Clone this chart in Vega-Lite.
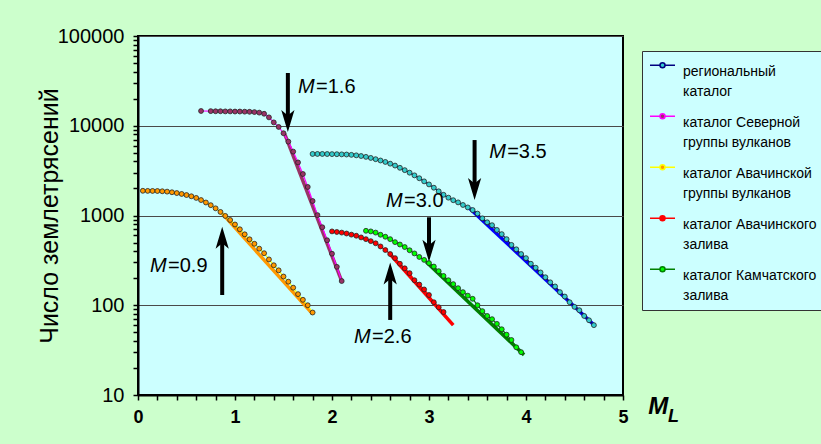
{
  "$schema": "https://vega.github.io/schema/vega-lite/v6.json",
  "width": 485,
  "height": 359,
  "autosize": {"type": "none"},
  "padding": {"left": 138, "top": 36, "right": 198, "bottom": 49},
  "background": "#ccffcc",
  "config": {
    "font": "Liberation Sans",
    "view": {"fill": "#ccffff", "stroke": "#000", "strokeWidth": 2},
    "axis": {"labelOverlap": false},
    "legend": {"symbolFillColor": "#ffffff", "symbolStrokeColor": "#000000"}
  },
  "datasets": {
    "pts": [
      {"s": "региональный каталог", "M": 1.8, "N": 4850}, {"s": "региональный каталог", "M": 1.85, "N": 4850}, {"s": "региональный каталог", "M": 1.9, "N": 4850}, {"s": "региональный каталог", "M": 1.95, "N": 4840}, {"s": "региональный каталог", "M": 2.0, "N": 4830}, {"s": "региональный каталог", "M": 2.05, "N": 4820}, {"s": "региональный каталог", "M": 2.1, "N": 4800}, {"s": "региональный каталог", "M": 2.15, "N": 4780}, {"s": "региональный каталог", "M": 2.2, "N": 4740}, {"s": "региональный каталог", "M": 2.25, "N": 4680}, {"s": "региональный каталог", "M": 2.3, "N": 4600}, {"s": "региональный каталог", "M": 2.35, "N": 4500}, {"s": "региональный каталог", "M": 2.4, "N": 4380}, {"s": "региональный каталог", "M": 2.45, "N": 4240}, {"s": "региональный каталог", "M": 2.5, "N": 4100}, {"s": "региональный каталог", "M": 2.55, "N": 3950}, {"s": "региональный каталог", "M": 2.6, "N": 3780}, {"s": "региональный каталог", "M": 2.65, "N": 3600}, {"s": "региональный каталог", "M": 2.7, "N": 3400}, {"s": "региональный каталог", "M": 2.75, "N": 3200}, {"s": "региональный каталог", "M": 2.8, "N": 3000}, {"s": "региональный каталог", "M": 2.85, "N": 2800}, {"s": "региональный каталог", "M": 2.9, "N": 2600}, {"s": "региональный каталог", "M": 2.95, "N": 2400}, {"s": "региональный каталог", "M": 3.0, "N": 2220}, {"s": "региональный каталог", "M": 3.05, "N": 2040}, {"s": "региональный каталог", "M": 3.1, "N": 1860}, {"s": "региональный каталог", "M": 3.15, "N": 1700}, {"s": "региональный каталог", "M": 3.2, "N": 1580}, {"s": "региональный каталог", "M": 3.25, "N": 1480}, {"s": "региональный каталог", "M": 3.3, "N": 1400}, {"s": "региональный каталог", "M": 3.35, "N": 1310}, {"s": "региональный каталог", "M": 3.4, "N": 1230}, {"s": "региональный каталог", "M": 3.45, "N": 1150}, {"s": "региональный каталог", "M": 3.5, "N": 1050}, {"s": "региональный каталог", "M": 3.55, "N": 930}, {"s": "региональный каталог", "M": 3.6, "N": 840}, {"s": "региональный каталог", "M": 3.65, "N": 780}, {"s": "региональный каталог", "M": 3.7, "N": 690}, {"s": "региональный каталог", "M": 3.75, "N": 620}, {"s": "региональный каталог", "M": 3.8, "N": 545}, {"s": "региональный каталог", "M": 3.85, "N": 470}, {"s": "региональный каталог", "M": 3.9, "N": 420}, {"s": "региональный каталог", "M": 3.95, "N": 372}, {"s": "региональный каталог", "M": 4.0, "N": 335}, {"s": "региональный каталог", "M": 4.05, "N": 290}, {"s": "региональный каталог", "M": 4.1, "N": 262}, {"s": "региональный каталог", "M": 4.15, "N": 232}, {"s": "региональный каталог", "M": 4.2, "N": 205}, {"s": "региональный каталог", "M": 4.25, "N": 180}, {"s": "региональный каталог", "M": 4.3, "N": 162}, {"s": "региональный каталог", "M": 4.35, "N": 140}, {"s": "региональный каталог", "M": 4.4, "N": 125}, {"s": "региональный каталог", "M": 4.45, "N": 108}, {"s": "региональный каталог", "M": 4.5, "N": 96}, {"s": "региональный каталог", "M": 4.55, "N": 88}, {"s": "региональный каталог", "M": 4.6, "N": 76}, {"s": "региональный каталог", "M": 4.65, "N": 68}, {"s": "региональный каталог", "M": 4.7, "N": 60},
      {"s": "каталог Северной группы вулканов", "M": 0.65, "N": 14600}, {"s": "каталог Северной группы вулканов", "M": 0.75, "N": 14550}, {"s": "каталог Северной группы вулканов", "M": 0.8, "N": 14500}, {"s": "каталог Северной группы вулканов", "M": 0.85, "N": 14500}, {"s": "каталог Северной группы вулканов", "M": 0.9, "N": 14450}, {"s": "каталог Северной группы вулканов", "M": 0.95, "N": 14450}, {"s": "каталог Северной группы вулканов", "M": 1.0, "N": 14400}, {"s": "каталог Северной группы вулканов", "M": 1.05, "N": 14400}, {"s": "каталог Северной группы вулканов", "M": 1.1, "N": 14350}, {"s": "каталог Северной группы вулканов", "M": 1.15, "N": 14300}, {"s": "каталог Северной группы вулканов", "M": 1.2, "N": 14200}, {"s": "каталог Северной группы вулканов", "M": 1.25, "N": 14000}, {"s": "каталог Северной группы вулканов", "M": 1.3, "N": 13600}, {"s": "каталог Северной группы вулканов", "M": 1.35, "N": 12400}, {"s": "каталог Северной группы вулканов", "M": 1.4, "N": 10900}, {"s": "каталог Северной группы вулканов", "M": 1.45, "N": 9700}, {"s": "каталог Северной группы вулканов", "M": 1.5, "N": 8250}, {"s": "каталог Северной группы вулканов", "M": 1.55, "N": 6650}, {"s": "каталог Северной группы вулканов", "M": 1.6, "N": 5150}, {"s": "каталог Северной группы вулканов", "M": 1.65, "N": 3900}, {"s": "каталог Северной группы вулканов", "M": 1.7, "N": 2900}, {"s": "каталог Северной группы вулканов", "M": 1.75, "N": 2080}, {"s": "каталог Северной группы вулканов", "M": 1.8, "N": 1450}, {"s": "каталог Северной группы вулканов", "M": 1.85, "N": 1010}, {"s": "каталог Северной группы вулканов", "M": 1.9, "N": 740}, {"s": "каталог Северной группы вулканов", "M": 1.95, "N": 530}, {"s": "каталог Северной группы вулканов", "M": 2.0, "N": 375}, {"s": "каталог Северной группы вулканов", "M": 2.05, "N": 268}, {"s": "каталог Северной группы вулканов", "M": 2.1, "N": 186},
      {"s": "каталог Авачинской группы вулканов", "M": 0.05, "N": 1885}, {"s": "каталог Авачинской группы вулканов", "M": 0.1, "N": 1880}, {"s": "каталог Авачинской группы вулканов", "M": 0.15, "N": 1878}, {"s": "каталог Авачинской группы вулканов", "M": 0.2, "N": 1875}, {"s": "каталог Авачинской группы вулканов", "M": 0.25, "N": 1862}, {"s": "каталог Авачинской группы вулканов", "M": 0.3, "N": 1845}, {"s": "каталог Авачинской группы вулканов", "M": 0.35, "N": 1815}, {"s": "каталог Авачинской группы вулканов", "M": 0.4, "N": 1778}, {"s": "каталог Авачинской группы вулканов", "M": 0.45, "N": 1738}, {"s": "каталог Авачинской группы вулканов", "M": 0.5, "N": 1690}, {"s": "каталог Авачинской группы вулканов", "M": 0.55, "N": 1637}, {"s": "каталог Авачинской группы вулканов", "M": 0.6, "N": 1570}, {"s": "каталог Авачинской группы вулканов", "M": 0.65, "N": 1486}, {"s": "каталог Авачинской группы вулканов", "M": 0.7, "N": 1396}, {"s": "каталог Авачинской группы вулканов", "M": 0.75, "N": 1303}, {"s": "каталог Авачинской группы вулканов", "M": 0.8, "N": 1202}, {"s": "каталог Авачинской группы вулканов", "M": 0.85, "N": 1096}, {"s": "каталог Авачинской группы вулканов", "M": 0.9, "N": 989}, {"s": "каталог Авачинской группы вулканов", "M": 0.95, "N": 891}, {"s": "каталог Авачинской группы вулканов", "M": 1.0, "N": 794}, {"s": "каталог Авачинской группы вулканов", "M": 1.05, "N": 702}, {"s": "каталог Авачинской группы вулканов", "M": 1.1, "N": 617}, {"s": "каталог Авачинской группы вулканов", "M": 1.15, "N": 543}, {"s": "каталог Авачинской группы вулканов", "M": 1.2, "N": 484}, {"s": "каталог Авачинской группы вулканов", "M": 1.25, "N": 427}, {"s": "каталог Авачинской группы вулканов", "M": 1.3, "N": 380}, {"s": "каталог Авачинской группы вулканов", "M": 1.35, "N": 324}, {"s": "каталог Авачинской группы вулканов", "M": 1.4, "N": 279}, {"s": "каталог Авачинской группы вулканов", "M": 1.45, "N": 245}, {"s": "каталог Авачинской группы вулканов", "M": 1.5, "N": 209}, {"s": "каталог Авачинской группы вулканов", "M": 1.55, "N": 183}, {"s": "каталог Авачинской группы вулканов", "M": 1.6, "N": 157}, {"s": "каталог Авачинской группы вулканов", "M": 1.65, "N": 133}, {"s": "каталог Авачинской группы вулканов", "M": 1.7, "N": 115}, {"s": "каталог Авачинской группы вулканов", "M": 1.75, "N": 100}, {"s": "каталог Авачинской группы вулканов", "M": 1.8, "N": 83},
      {"s": "каталог Авачинского залива", "M": 2.0, "N": 665}, {"s": "каталог Авачинского залива", "M": 2.05, "N": 655}, {"s": "каталог Авачинского залива", "M": 2.1, "N": 645}, {"s": "каталог Авачинского залива", "M": 2.15, "N": 630}, {"s": "каталог Авачинского залива", "M": 2.2, "N": 612}, {"s": "каталог Авачинского залива", "M": 2.25, "N": 595}, {"s": "каталог Авачинского залива", "M": 2.3, "N": 570}, {"s": "каталог Авачинского залива", "M": 2.35, "N": 545}, {"s": "каталог Авачинского залива", "M": 2.4, "N": 518}, {"s": "каталог Авачинского залива", "M": 2.45, "N": 490}, {"s": "каталог Авачинского залива", "M": 2.5, "N": 452}, {"s": "каталог Авачинского залива", "M": 2.55, "N": 412}, {"s": "каталог Авачинского залива", "M": 2.6, "N": 372}, {"s": "каталог Авачинского залива", "M": 2.65, "N": 335}, {"s": "каталог Авачинского залива", "M": 2.7, "N": 290}, {"s": "каталог Авачинского залива", "M": 2.75, "N": 258}, {"s": "каталог Авачинского залива", "M": 2.8, "N": 228}, {"s": "каталог Авачинского залива", "M": 2.85, "N": 190}, {"s": "каталог Авачинского залива", "M": 2.9, "N": 170}, {"s": "каталог Авачинского залива", "M": 2.95, "N": 150}, {"s": "каталог Авачинского залива", "M": 3.0, "N": 130}, {"s": "каталог Авачинского залива", "M": 3.05, "N": 108}, {"s": "каталог Авачинского залива", "M": 3.1, "N": 95}, {"s": "каталог Авачинского залива", "M": 3.15, "N": 84},
      {"s": "каталог Камчатского залива", "M": 2.35, "N": 675}, {"s": "каталог Камчатского залива", "M": 2.4, "N": 665}, {"s": "каталог Камчатского залива", "M": 2.45, "N": 645}, {"s": "каталог Камчатского залива", "M": 2.5, "N": 610}, {"s": "каталог Камчатского залива", "M": 2.55, "N": 580}, {"s": "каталог Камчатского залива", "M": 2.6, "N": 545}, {"s": "каталог Камчатского залива", "M": 2.65, "N": 505}, {"s": "каталог Камчатского залива", "M": 2.7, "N": 475}, {"s": "каталог Камчатского залива", "M": 2.75, "N": 445}, {"s": "каталог Камчатского залива", "M": 2.8, "N": 410}, {"s": "каталог Камчатского залива", "M": 2.85, "N": 378}, {"s": "каталог Камчатского залива", "M": 2.9, "N": 345}, {"s": "каталог Камчатского залива", "M": 2.95, "N": 320}, {"s": "каталог Камчатского залива", "M": 3.0, "N": 295}, {"s": "каталог Камчатского залива", "M": 3.05, "N": 270}, {"s": "каталог Камчатского залива", "M": 3.1, "N": 240}, {"s": "каталог Камчатского залива", "M": 3.15, "N": 212}, {"s": "каталог Камчатского залива", "M": 3.2, "N": 190}, {"s": "каталог Камчатского залива", "M": 3.25, "N": 172}, {"s": "каталог Камчатского залива", "M": 3.3, "N": 155}, {"s": "каталог Камчатского залива", "M": 3.35, "N": 140}, {"s": "каталог Камчатского залива", "M": 3.4, "N": 128}, {"s": "каталог Камчатского залива", "M": 3.45, "N": 118}, {"s": "каталог Камчатского залива", "M": 3.5, "N": 100}, {"s": "каталог Камчатского залива", "M": 3.55, "N": 86}, {"s": "каталог Камчатского залива", "M": 3.6, "N": 76}, {"s": "каталог Камчатского залива", "M": 3.65, "N": 70}, {"s": "каталог Камчатского залива", "M": 3.7, "N": 62}, {"s": "каталог Камчатского залива", "M": 3.75, "N": 54}, {"s": "каталог Камчатского залива", "M": 3.8, "N": 47}, {"s": "каталог Камчатского залива", "M": 3.85, "N": 41}, {"s": "каталог Камчатского залива", "M": 3.9, "N": 34}, {"s": "каталог Камчатского залива", "M": 3.95, "N": 30}
    ],
    "fit": [
      {"s": "региональный каталог", "M": 3.42, "N": 1200}, {"s": "региональный каталог", "M": 4.71, "N": 59},
      {"s": "каталог Северной группы вулканов", "M": 1.51, "N": 8230}, {"s": "каталог Северной группы вулканов", "M": 2.1, "N": 186},
      {"s": "каталог Авачинской группы вулканов", "M": 0.87, "N": 1050}, {"s": "каталог Авачинской группы вулканов", "M": 1.8, "N": 80},
      {"s": "каталог Авачинского залива", "M": 2.6, "N": 370}, {"s": "каталог Авачинского залива", "M": 3.25, "N": 60},
      {"s": "каталог Камчатского залива", "M": 2.97, "N": 305}, {"s": "каталог Камчатского залива", "M": 3.98, "N": 28}
    ],
    "arrows": [
      {"M": 1.545, "tail": 38700, "end": 12500, "tip": 8510, "dir": "down", "v": "=1.6", "tM": 1.65, "tN": 26800},
      {"M": 3.47, "tail": 6930, "end": 2190, "tip": 1490, "dir": "down", "v": "=3.5", "tM": 3.62, "tN": 5140},
      {"M": 3.0, "tail": 955, "end": 450, "tip": 306, "dir": "down", "v": "=3.0", "tM": 2.557, "tN": 1452},
      {"M": 0.868, "tail": 130, "end": 510, "tip": 750, "dir": "up", "v": "=0.9", "tM": 0.124, "tN": 274},
      {"M": 2.6, "tail": 68.6, "end": 205, "tip": 300, "dir": "up", "v": "=2.6", "tM": 2.227, "tN": 44.7}
    ],
    "axtitle": [
      {"part": "M", "M": 5.26, "N": 7.35},
      {"part": "L", "M": 5.465, "N": 5.73}
    ]
  },
  "layer": [
    {
      "data": {"name": "pts"},
      "mark": {"type": "point", "filled": true, "size": 10, "opacity": 0},
      "encoding": {
        "x": {"field": "M", "type": "quantitative"},
        "y": {"field": "N", "type": "quantitative"},
        "stroke": {"field": "s", "type": "nominal",
          "scale": {"domain": ["региональный каталог", "каталог Северной группы вулканов", "каталог Авачинской группы вулканов", "каталог Авачинского залива", "каталог Камчатского залива"],
                    "range": ["#000080", "#ff00ff", "#ffff00", "#ff0000", "#008000"]},
          "legend": {"title": null, "orient": "none", "legendX": 504, "legendY": 15, "direction": "vertical",
            "fillColor": "#ccffff", "strokeColor": "#333", "padding": 7,
            "symbolType": "M-1,-0.5L-0.2,-0.5M0.2,-0.5L1,-0.5M-0.2,-0.5A0.2,0.2,0,1,0,0.2,-0.5A0.2,0.2,0,1,0,-0.2,-0.5Z",
            "symbolSize": 625, "symbolStrokeWidth": 1.5, "symbolOpacity": 1,
            "labelFont": "Liberation Sans", "labelFontSize": 14, "labelColor": "#000", "labelLimit": 300, "labelOffset": 7, "labelBaseline": "middle",
            "rowPadding": 10,
            "encode": {"labels": {"update": {"lineHeight": {"value": 20}}}},
            "labelExpr": "datum.label == 'региональный каталог' ? ['региональный', 'каталог'] : [join(slice(split(datum.label, ' '), 0, 2), ' '), join(slice(split(datum.label, ' '), 2), ' ')]"}},
        "fill": {"field": "s", "type": "nominal",
          "scale": {"domain": ["региональный каталог", "каталог Северной группы вулканов", "каталог Авачинской группы вулканов", "каталог Авачинского залива", "каталог Камчатского залива"],
                    "range": ["#33cccc", "#993366", "#ff9900", "#ff0000", "#00ff00"]},
          "legend": {"title": null, "orient": "none", "legendX": 504, "legendY": 15, "direction": "vertical",
            "fillColor": "#ccffff", "strokeColor": "#333", "padding": 7,
            "symbolType": "M-1,-0.5L-0.2,-0.5M0.2,-0.5L1,-0.5M-0.2,-0.5A0.2,0.2,0,1,0,0.2,-0.5A0.2,0.2,0,1,0,-0.2,-0.5Z",
            "symbolSize": 625, "symbolStrokeWidth": 1.5, "symbolOpacity": 1,
            "labelFont": "Liberation Sans", "labelFontSize": 14, "labelColor": "#000", "labelLimit": 300, "labelOffset": 7, "labelBaseline": "middle",
            "rowPadding": 10,
            "encode": {"labels": {"update": {"lineHeight": {"value": 20}}}},
            "labelExpr": "datum.label == 'региональный каталог' ? ['региональный', 'каталог'] : [join(slice(split(datum.label, ' '), 0, 2), ' '), join(slice(split(datum.label, ' '), 2), ' ')]"}}
      }
    },
    {
      "data": {"name": "fit"},
      "mark": {"type": "line", "strokeWidth": 3.5},
      "encoding": {
        "x": {"field": "M", "type": "quantitative",
          "scale": {"domain": [0, 5], "nice": false, "zero": false},
          "axis": {
            "title": null,
            "values": [0, 0.2, 0.4, 0.6, 0.8, 1, 1.2, 1.4, 1.6, 1.8, 2, 2.2, 2.4, 2.6, 2.8, 3, 3.2, 3.4, 3.6, 3.8, 4, 4.2, 4.4, 4.6, 4.8, 5],
            "tickCount": 30,
            "labelExpr": "datum.value % 1 == 0 ? format(datum.value, 'd') : ''",
            "labelFontWeight": "bold", "labelFontSize": 18, "labelColor": "#000", "labelFont": "Liberation Sans",
            "labelPadding": 8, "labelFlush": false, "labelOverlap": false,
            "tickSize": 5, "tickColor": "#000", "tickWidth": 1.5,
            "domainColor": "#000", "domainWidth": 2, "grid": false
          }
        },
        "y": {"field": "N", "type": "quantitative",
          "scale": {"type": "log", "domain": [10, 100000], "nice": false},
          "axis": {
            "title": "Число землетрясений", "titleFontSize": 25, "titleFontWeight": "normal", "titleColor": "#000", "titleFont": "Liberation Sans", "titlePadding": -5,
            "values": [10, 20, 30, 40, 50, 60, 70, 80, 90, 100, 200, 300, 400, 500, 600, 700, 800, 900, 1000, 2000, 3000, 4000, 5000, 6000, 7000, 8000, 9000, 10000, 20000, 30000, 40000, 50000, 60000, 70000, 80000, 90000, 100000],
            "tickCount": 40,
            "labelExpr": "indexof([10, 100, 1000, 10000, 100000], datum.value) >= 0 ? format(datum.value, 'd') : ''",
            "labelFontSize": 20, "labelColor": "#000", "labelFont": "Liberation Sans", "labelPadding": 9, "labelOverlap": false,
            "tickSize": 5, "tickColor": "#000", "tickWidth": 1.5,
            "domainColor": "#000", "domainWidth": 2,
            "grid": true, "gridColor": "#4a4a4a", "gridWidth": 1,
            "gridOpacity": {"condition": {"test": "indexof([10, 100, 1000, 10000, 100000], datum.value) >= 0", "value": 1}, "value": 0}
          }
        },
        "color": {"field": "s", "type": "nominal", "legend": null,
          "scale": {"range": ["#ff0000", "#ff9900", "#008000", "#993366", "#0000ff"]}}
      }
    },
    {
      "data": {"name": "pts"},
      "mark": {"type": "line", "strokeWidth": 1.2},
      "encoding": {
        "x": {"field": "M", "type": "quantitative"},
        "y": {"field": "N", "type": "quantitative"},
        "stroke": {"field": "s", "type": "nominal"}
      }
    },
    {
      "data": {"name": "pts"},
      "mark": {"type": "point", "filled": true, "size": 24, "stroke": "#222", "strokeWidth": 0.8, "opacity": 1},
      "encoding": {
        "x": {"field": "M", "type": "quantitative"},
        "y": {"field": "N", "type": "quantitative"},
        "fill": {"field": "s", "type": "nominal"}
      }
    },
    {
      "data": {"name": "arrows"},
      "mark": {"type": "rule", "strokeWidth": 4, "color": "#000"},
      "encoding": {
        "x": {"field": "M", "type": "quantitative"},
        "y": {"field": "tail", "type": "quantitative"},
        "y2": {"field": "end"}
      }
    },
    {
      "data": {"name": "arrows"},
      "mark": {"type": "point", "filled": true, "color": "#000", "opacity": 1, "size": 1936},
      "encoding": {
        "x": {"field": "M", "type": "quantitative"},
        "y": {"field": "tip", "type": "quantitative"},
        "shape": {"field": "dir", "type": "nominal", "legend": null,
          "scale": {"domain": ["down", "up"], "range": ["M0,0L-0.3,-1L0,-0.75L0.3,-1Z", "M0,0L-0.3,1L0,0.75L0.3,1Z"]}}
      }
    },
    {
      "data": {"name": "arrows"},
      "mark": {"type": "text", "fontSize": 20, "fontStyle": "italic", "align": "left", "baseline": "middle", "color": "#000"},
      "encoding": {
        "x": {"field": "tM", "type": "quantitative"},
        "y": {"field": "tN", "type": "quantitative"},
        "text": {"value": "M"}
      }
    },
    {
      "data": {"name": "arrows"},
      "mark": {"type": "text", "fontSize": 20, "align": "left", "baseline": "middle", "dx": 18, "color": "#000"},
      "encoding": {
        "x": {"field": "tM", "type": "quantitative"},
        "y": {"field": "tN", "type": "quantitative"},
        "text": {"field": "v"}
      }
    },
    {
      "data": {"name": "axtitle"},
      "transform": [{"filter": "datum.part == 'M'"}],
      "mark": {"type": "text", "fontSize": 24, "fontStyle": "italic", "fontWeight": "bold", "align": "left", "baseline": "middle", "color": "#000"},
      "encoding": {
        "x": {"field": "M", "type": "quantitative"},
        "y": {"field": "N", "type": "quantitative"},
        "text": {"field": "part"}
      }
    },
    {
      "data": {"name": "axtitle"},
      "transform": [{"filter": "datum.part == 'L'"}],
      "mark": {"type": "text", "fontSize": 18, "fontStyle": "italic", "fontWeight": "bold", "align": "left", "baseline": "middle", "color": "#000"},
      "encoding": {
        "x": {"field": "M", "type": "quantitative"},
        "y": {"field": "N", "type": "quantitative"},
        "text": {"field": "part"}
      }
    }
  ]
}
